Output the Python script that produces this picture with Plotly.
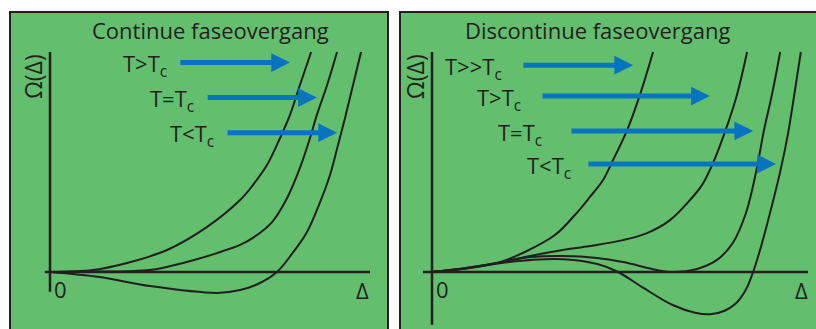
import plotly.graph_objects as go

# Continue faseovergang -- Omega(Delta) (Delta: 0..1 = axis length)
cont_delta_hot = [0, 0.134, 0.241, 0.366, 0.491, 0.594, 0.634, 0.678, 0.719, 0.75, 0.781, 0.816]
cont_omega_hot = [0, 0.009, 0.041, 0.100, 0.205, 0.327, 0.395, 0.486, 0.609, 0.714, 0.85, 1.0]
cont_delta_crit = [0, 0.134, 0.3125, 0.416, 0.522, 0.594, 0.634, 0.694, 0.741, 0.781, 0.8125, 0.834,
                   0.866, 0.897]
cont_omega_crit = [0, 0.002, 0.009, 0.041, 0.086, 0.123, 0.155, 0.227, 0.336, 0.473, 0.609, 0.714,
                   0.85, 1.0]
cont_delta_cold = [0, 0.156, 0.3125, 0.522, 0.594, 0.656, 0.709, 0.756, 0.803, 0.844, 0.875, 0.9,
                   0.922, 0.947, 0.972]
cont_omega_cold = [0, -0.023, -0.064, -0.095, -0.082, -0.05, 0, 0.082, 0.182, 0.318, 0.441, 0.577,
                   0.7, 0.85, 1.0]

# Discontinue faseovergang
disc_delta_vhot = [0, 0.101, 0.181, 0.247, 0.327, 0.380, 0.420, 0.455, 0.479, 0.519, 0.553, 0.588]
disc_omega_vhot = [0, 0.018, 0.045, 0.091, 0.168, 0.259, 0.341, 0.418, 0.5, 0.645, 0.805, 1.0]
disc_delta_hot = [0, 0.082, 0.173, 0.261, 0.348, 0.420, 0.508, 0.572, 0.633, 0.686, 0.718, 0.745,
                  0.779, 0.811, 0.838]
disc_omega_hot = [0, 0.016, 0.041, 0.073, 0.1, 0.118, 0.145, 0.177, 0.236, 0.327, 0.395, 0.486,
                  0.636, 0.805, 1.0]
disc_delta_crit = [0, 0.082, 0.173, 0.261, 0.348, 0.439, 0.508, 0.598, 0.641, 0.705, 0.758, 0.8,
                   0.835, 0.862, 0.883, 0.904, 0.926]
disc_omega_crit = [0, 0.016, 0.041, 0.068, 0.073, 0.064, 0.045, 0.009, 0, 0.014, 0.055, 0.132,
                   0.268, 0.455, 0.645, 0.805, 1.0]
disc_delta_cold = [0, 0.09, 0.18, 0.27, 0.35, 0.44, 0.495, 0.56, 0.64, 0.7, 0.74, 0.78, 0.81, 0.835,
                   0.854, 0.875, 0.9, 0.926, 0.947, 0.963, 0.981]
disc_omega_cold = [0, 0.016, 0.04, 0.056, 0.058, 0.036, 0, -0.07, -0.15, -0.185, -0.192, -0.175,
                   -0.14, -0.08, 0, 0.115, 0.275, 0.455, 0.63, 0.8, 1.0]

titles = ["Continue faseovergang", "Discontinue faseovergang"]
cont_labels = ["T>T<sub>c</sub>", "T=T<sub>c</sub>", "T<T<sub>c</sub>"]
disc_labels = ["T>>T<sub>c</sub>", "T>T<sub>c</sub>", "T=T<sub>c</sub>", "T<T<sub>c</sub>"]

INK = "#231f20"
GREEN = "#63be6e"
BLUE = "#0874bf"
FONT = "Open Sans"

fig = go.Figure()

curves = [
    (cont_delta_hot, cont_omega_hot, "x", "y"),
    (cont_delta_crit, cont_omega_crit, "x", "y"),
    (cont_delta_cold, cont_omega_cold, "x", "y"),
    (disc_delta_vhot, disc_omega_vhot, "x2", "y2"),
    (disc_delta_hot, disc_omega_hot, "x2", "y2"),
    (disc_delta_crit, disc_omega_crit, "x2", "y2"),
    (disc_delta_cold, disc_omega_cold, "x2", "y2"),
]
for xs, ys, xa, ya in curves:
    fig.add_trace(go.Scatter(x=xs, y=ys, xaxis=xa, yaxis=ya, mode="lines",
                             line=dict(color=INK, width=2, shape="spline", smoothing=1.0),
                             hoverinfo="skip", showlegend=False))

shapes = []
annotations = []

# panel frames
shapes.append(dict(type="rect", xref="x domain", yref="y domain", x0=0, x1=1, y0=-0.05, y1=1,
                   line=dict(color=INK, width=2), layer="above"))
shapes.append(dict(type="rect", xref="x2 domain", yref="y2 domain", x0=0, x1=1.05, y0=-0.05, y1=1,
                   line=dict(color=INK, width=2), layer="above"))

# drawn axes (left panel, right panel)
for xa, ya, xlo, xhi, ylo in [("x", "y", -0.016, 1.0, -0.09), ("x2", "y2", -0.024, 1.0, -0.24)]:
    shapes.append(dict(type="line", xref=xa, yref=ya, x0=xlo, x1=xhi, y0=0, y1=0,
                       line=dict(color=INK, width=2.5)))
    shapes.append(dict(type="line", xref=xa, yref=ya, x0=0, x1=0, y0=ylo, y1=1.0,
                       line=dict(color=INK, width=2.5)))

# titles
for title, xa, ya, xc in [(titles[0], "x", "y", 0.503), (titles[1], "x2", "y2", 0.439)]:
    annotations.append(dict(text=title, xref=xa, yref=ya, x=xc, y=1.1, showarrow=False,
                            font=dict(family=FONT, size=22, color=INK)))

# axis labels
for xa, ya, x0lab, dlab in [("x", "y", 0.034, 0.975), ("x2", "y2", 0.027, 0.984)]:
    annotations.append(dict(text="0", xref=xa, yref=ya, x=x0lab, y=-0.076, showarrow=False,
                            font=dict(family=FONT, size=22, color=INK)))
    annotations.append(dict(text="Δ", xref=xa, yref=ya, x=dlab, y=-0.084, showarrow=False,
                            font=dict(family=FONT, size=22, color=INK)))
for xa, ya, xc in [("x", "y", -0.053), ("x2", "y2", -0.045)]:
    annotations.append(dict(text="Ω(Δ)", xref=xa, yref=ya, x=xc, y=0.886, textangle=-90,
                            showarrow=False, font=dict(family=FONT, size=23, color=INK)))

# arrows with labels: (tail, tip, level)
cont_arrows = [(0.403, 0.75, 0.952), (0.488, 0.834, 0.793), (0.55, 0.897, 0.633)]
disc_arrows = [(0.239, 0.535, 0.940), (0.290, 0.739, 0.800), (0.367, 0.854, 0.641), (0.412, 0.915, 0.491)]
label_gap = [[0.031, 0.031, 0.031], [0.048, 0.048, 0.069, 0.037]]

for (labels, arrows, xa, ya, gaps) in [(cont_labels, cont_arrows, "x", "y", label_gap[0]),
                                      (disc_labels, disc_arrows, "x2", "y2", label_gap[1])]:
    for lab, (tail, tip, lev), gap in zip(labels, arrows, gaps):
        annotations.append(dict(text="", xref=xa, yref=ya, x=tip, y=lev, axref=xa, ayref=ya,
                                ax=tail, ay=lev, showarrow=True, arrowhead=2, arrowsize=0.75,
                                arrowwidth=5, arrowcolor=BLUE, standoff=0, startstandoff=0))
        annotations.append(dict(text=lab, xref=xa, yref=ya, x=tail - gap, y=lev - 0.012,
                                xanchor="right", yanchor="middle", showarrow=False,
                                font=dict(family=FONT, size=22, color=INK)))

axis_common = dict(showgrid=False, zeroline=False, showticklabels=False, showline=False,
                   ticks="", fixedrange=True)
fig.update_layout(
    width=816, height=329,
    margin=dict(l=0, r=0, t=0, b=0),
    paper_bgcolor="white",
    plot_bgcolor=GREEN,
    xaxis=dict(domain=[10 / 816, 388 / 816], range=[-0.125, 1.05625], **axis_common),
    yaxis=dict(domain=[0, 317 / 329], range=[-0.2591, 1.1818], **axis_common),
    xaxis2=dict(domain=[400 / 816, 1.0], range=[-0.0851, 1.0213], anchor="y2", **axis_common),
    yaxis2=dict(domain=[0, 317 / 329], range=[-0.2591, 1.1818], anchor="x2", **axis_common),
    shapes=shapes,
    annotations=annotations,
)

fig.write_html("out.html", config={"displayModeBar": False},
               post_script="document.body.style.margin='0';")
